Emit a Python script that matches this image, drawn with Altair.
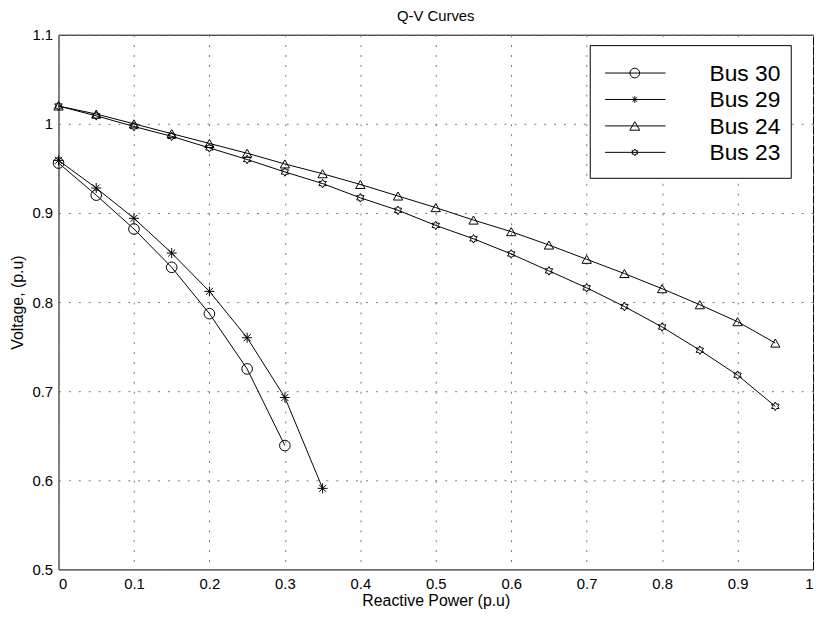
import altair as alt
import pandas as pd

# ---------------- data ----------------
series = ["Bus 30", "Bus 29", "Bus 24", "Bus 23"]

q_bus30 = [0.0, 0.05, 0.10, 0.15, 0.20, 0.25, 0.30]
v_bus30 = [0.956, 0.920, 0.882, 0.839, 0.787, 0.725, 0.639]

q_bus29 = [0.0, 0.05, 0.10, 0.15, 0.20, 0.25, 0.30, 0.35]
v_bus29 = [0.959, 0.928, 0.894, 0.855, 0.812, 0.760, 0.693, 0.591]

q_bus24 = [0.0, 0.05, 0.10, 0.15, 0.20, 0.25, 0.30, 0.35, 0.40, 0.45,
           0.50, 0.55, 0.60, 0.65, 0.70, 0.75, 0.80, 0.85, 0.90, 0.95]
v_bus24 = [1.020, 1.011, 1.000, 0.989, 0.978, 0.967, 0.955, 0.944, 0.932, 0.919,
           0.906, 0.892, 0.879, 0.864, 0.848, 0.832, 0.815, 0.797, 0.778, 0.754]

q_bus23 = [0.0, 0.05, 0.10, 0.15, 0.20, 0.25, 0.30, 0.35, 0.40, 0.45,
           0.50, 0.55, 0.60, 0.65, 0.70, 0.75, 0.80, 0.85, 0.90, 0.95]
v_bus23 = [1.020, 1.009, 0.997, 0.986, 0.973, 0.960, 0.946, 0.933, 0.917, 0.903,
           0.886, 0.871, 0.854, 0.835, 0.816, 0.795, 0.772, 0.746, 0.718, 0.683]

x_ticks = [0, 0.1, 0.2, 0.3, 0.4, 0.5, 0.6, 0.7, 0.8, 0.9, 1.0]
y_ticks = [0.5, 0.6, 0.7, 0.8, 0.9, 1.0, 1.1]

# ---------------- build table ----------------
rows = []
for name, qs, vs in zip(series, [q_bus30, q_bus29, q_bus24, q_bus23],
                        [v_bus30, v_bus29, v_bus24, v_bus23]):
    for q, v in zip(qs, vs):
        rows.append({"series": name, "q": q, "v": v})
df = pd.DataFrame(rows)

FONT = "Liberation Sans"
W, H = 762, 540

star = "M-1,0L1,0M0,-1L0,1M-0.7,-0.7L0.7,0.7M-0.7,0.7L0.7,-0.7"
hexagram = ("M0,-1L0.289,-0.5L0.866,-0.5L0.577,0L0.866,0.5L0.289,0.5L0,1"
            "L-0.289,0.5L-0.866,0.5L-0.577,0L-0.866,-0.5L-0.289,-0.5Z")
shapes = ["circle", star, "triangle-up", hexagram]
sizes = [115, 75, 135, 75]

x_enc = alt.X("q:Q", scale=alt.Scale(domain=[0, 1], nice=False, zero=False),
              axis=alt.Axis(values=x_ticks, format="~g", title="Reactive Power (p.u)",
                            titleY=31, titleBaseline="middle"))
y_enc = alt.Y("v:Q", scale=alt.Scale(domain=[0.5, 1.1], nice=False, zero=False),
              axis=alt.Axis(values=y_ticks, format="~g", title="Voltage, (p.u)",
                            titleX=-41, titleY=H / 2, titleBaseline="middle"))

lines = alt.Chart(df).mark_line(color="black", strokeWidth=1).encode(
    x=x_enc, y=y_enc, detail="series:N"
)

points = alt.Chart(df).mark_point(filled=False, color="black", strokeWidth=1, opacity=1).encode(
    x=x_enc, y=y_enc,
    shape=alt.Shape("series:N", scale=alt.Scale(domain=series, range=shapes), legend=None),
    size=alt.Size("series:O", scale=alt.Scale(domain=series, range=sizes), legend=None),
)

# ---------------- hand-made legend (pixel layout) ----------------
one = pd.DataFrame({"k": [0]})
box = alt.Chart(one).mark_rect(fill="white", stroke="black", strokeWidth=1).encode(
    x=alt.value(537), x2=alt.value(740), y=alt.value(11), y2=alt.value(145)
)

legend_layers = [box]
leg_sizes = [95, 45, 100, 45]
for i, name in enumerate(series):
    yp = 38.7 + 26.7 * i
    d = pd.DataFrame({"series": [name]})
    legend_layers.append(
        alt.Chart(d).mark_rule(color="black", strokeWidth=1).encode(
            x=alt.value(552), x2=alt.value(613), y=alt.value(yp)
        )
    )
    legend_layers.append(
        alt.Chart(d).mark_point(filled=False, color="black", strokeWidth=1, opacity=1,
                                shape=shapes[i], size=leg_sizes[i]).encode(
            x=alt.value(582), y=alt.value(yp)
        )
    )
    legend_layers.append(
        alt.Chart(d).mark_text(align="right", baseline="middle", font=FONT,
                               fontSize=23, color="black").encode(
            x=alt.value(729), y=alt.value(yp + 1), text="series:N"
        )
    )

chart = alt.layer(lines, points, *legend_layers).properties(
    width=W, height=H,
    title=alt.TitleParams("Q-V Curves", font=FONT, fontSize=15, fontWeight="normal",
                          color="black", offset=4),
    autosize=alt.AutoSizeParams(type="none"),
    padding={"left": 51, "top": 24, "right": 4, "bottom": 40},
).configure_view(
    stroke="black", strokeWidth=1
).configure_axis(
    labelFont=FONT, labelFontSize=15, labelColor="black",
    titleFont=FONT, titleFontSize=16, titleFontWeight="normal", titleColor="black",
    grid=True, gridColor="#777777", gridDash=[2, 8], gridWidth=1,
    domain=False, ticks=False,
).configure_axisX(labelPadding=7).configure_axisY(labelPadding=6)

chart.save("out.html", embed_options={"renderer": "svg", "actions": False})
